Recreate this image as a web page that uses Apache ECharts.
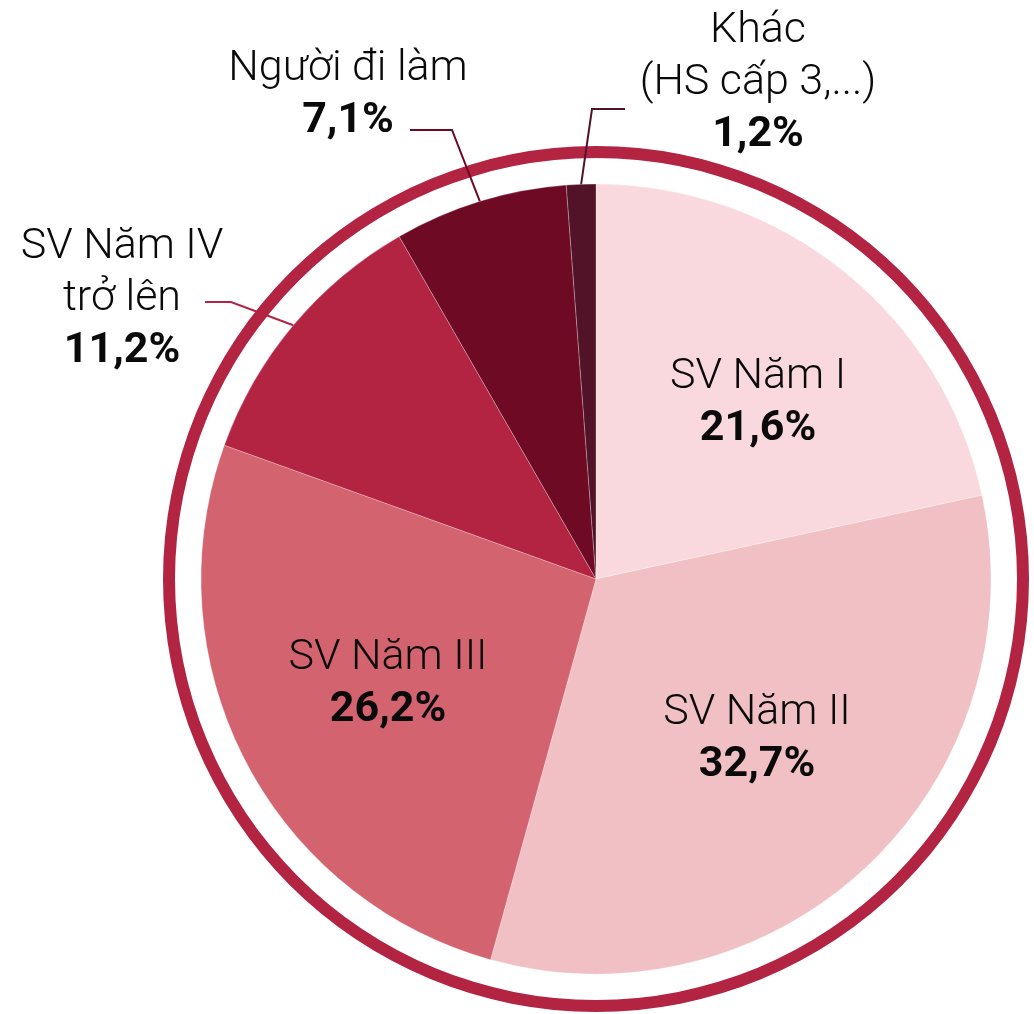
<!DOCTYPE html>
<html>
<head>
<meta charset="utf-8">
<script src="https://cdn.jsdelivr.net/npm/echarts@6/dist/echarts.min.js"></script>
<style>
  html, body { margin: 0; padding: 0; background: #fff; }
  #chart { width: 1034px; height: 1014px; }
</style>
</head>
<body>
<div id="chart"></div>
<script>
// du lieu
const categories = ['SV Năm I', 'SV Năm II', 'SV Năm III', 'SV Năm IV\ntrở lên', 'Người đi làm', 'Khác\n(HS cấp 3,...)'];
const values = [21.6, 32.7, 26.2, 11.2, 7.1, 1.2];
const colors = ['#f9d9de', '#f0c0c4', '#d46370', '#b22442', '#6e0a24', '#521228'];
const insideLabel = [true, true, true, false, false, false];

// vi tri nhan (tam khoi chu) va diem gap cua duong dan
const labelPos = [
  { x: 758, y: 403 },
  { x: 757, y: 739 },
  { x: 388, y: 684 },
  { x: 122, y: 299, elbow: [231, 302], end: [205, 302] },
  { x: 348, y: 95, elbow: [452, 130], end: [410, 130] },
  { x: 758, y: 83, elbow: [592, 109], end: [625, 109] }
];

const fmt = v => v.toFixed(1).replace('.', ',') + '%';

const chart = echarts.init(document.getElementById('chart'));

chart.setOption({
  animation: false,
  series: [
    {
      // vong ngoai
      type: 'pie',
      center: [596, 579],
      radius: [421, 433],
      silent: true,
      z: 1,
      label: { show: false },
      labelLine: { show: false },
      data: [{ value: 1, itemStyle: { color: '#b22442' } }]
    },
    {
      type: 'pie',
      center: [596, 579],
      radius: 395,
      startAngle: 90,
      clockwise: true,
      z: 2,
      avoidLabelOverlap: false,
      itemStyle: { borderColor: 'rgba(255,255,255,0.45)', borderWidth: 0.6 },
      label: {
        formatter: p => p.name.split('\n').map(s => '{n|' + s + '}').join('\n') + '\n{p|' + fmt(p.value) + '}',
        rich: {
          n: { fontFamily: 'Roboto', fontWeight: 300, fontSize: 43, lineHeight: 52, color: '#0a0a0a', align: 'center' },
          p: { fontFamily: 'Roboto', fontWeight: 'bold', fontSize: 43, lineHeight: 52, color: '#0a0a0a', align: 'center' }
        }
      },
      labelLayout: function (params) {
        const lp = labelPos[params.dataIndex];
        const out = { x: lp.x, y: lp.y, align: 'center', verticalAlign: 'middle' };
        if (lp.elbow && params.labelLinePoints) {
          out.labelLinePoints = [params.labelLinePoints[0], lp.elbow, lp.end];
        }
        return out;
      },
      data: categories.map((c, i) => ({
        name: c,
        value: values[i],
        itemStyle: { color: colors[i] },
        label: { position: insideLabel[i] ? 'inside' : 'outside' },
        labelLine: { show: !insideLabel[i], lineStyle: { color: colors[i], width: 2 } }
      }))
    }
  ]
});
</script>
</body>
</html>
